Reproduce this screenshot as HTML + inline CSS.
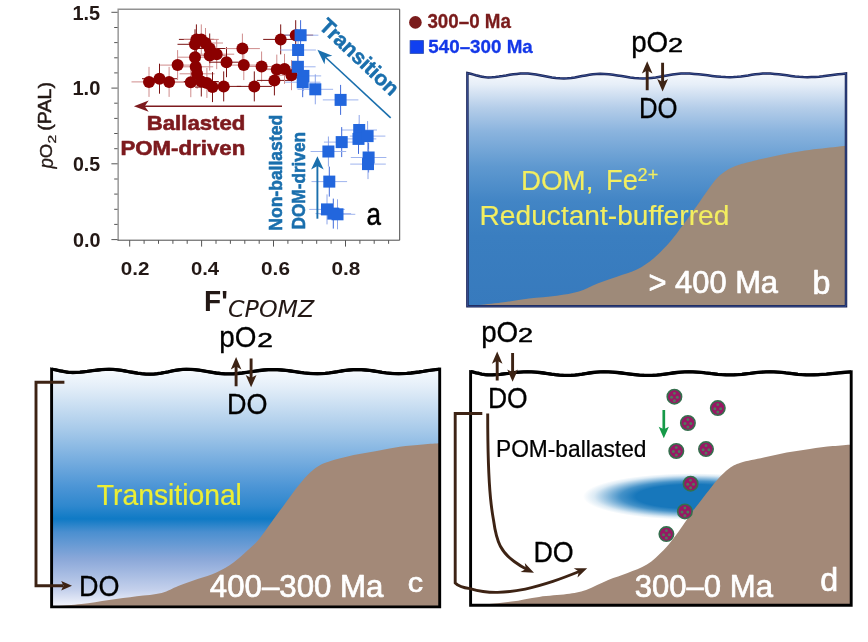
<!DOCTYPE html>
<html lang="en"><head><meta charset="utf-8"><title>Figure</title>
<style>
html,body{margin:0;padding:0;background:#fff;}
body{width:868px;height:642px;overflow:hidden;font-family:'Liberation Sans', sans-serif;}
svg{display:block;}
text{font-family:'Liberation Sans', sans-serif;}
</style></head><body>
<svg width="868" height="642" viewBox="0 0 868 642">
<defs>
<linearGradient id="gb" x1="0" y1="0" x2="0" y2="1">
<stop offset="0" stop-color="#f6f9fd"/>
<stop offset="0.05" stop-color="#e6eef8"/>
<stop offset="0.15" stop-color="#b4cde9"/>
<stop offset="0.25" stop-color="#8bb4de"/>
<stop offset="0.4" stop-color="#5f99d0"/>
<stop offset="0.55" stop-color="#4285c5"/>
<stop offset="0.7" stop-color="#3a7ec0"/>
<stop offset="1" stop-color="#377abd"/>
</linearGradient>
<linearGradient id="gc" x1="0" y1="0" x2="0" y2="1">
<stop offset="0" stop-color="#f8fbfe"/>
<stop offset="0.08" stop-color="#e2edf8"/>
<stop offset="0.25" stop-color="#a9cbea"/>
<stop offset="0.42" stop-color="#69a5dc"/>
<stop offset="0.5" stop-color="#4a94d5"/>
<stop offset="0.575" stop-color="#2f88ce"/>
<stop offset="0.63" stop-color="#0f7ac5"/>
<stop offset="0.685" stop-color="#4a8fd0"/>
<stop offset="0.80" stop-color="#8ba8d9"/>
<stop offset="0.93" stop-color="#c5d1ec"/>
<stop offset="1" stop-color="#f5f6fc"/>
</linearGradient>
<radialGradient id="ge" cx="0.5" cy="0.5" r="0.5">
<stop offset="0" stop-color="#1777bb"/>
<stop offset="0.52" stop-color="#1777bb"/>
<stop offset="0.66" stop-color="#1777bb" stop-opacity="0.8"/>
<stop offset="0.8" stop-color="#1777bb" stop-opacity="0.42"/>
<stop offset="0.9" stop-color="#1777bb" stop-opacity="0.15"/>
<stop offset="1" stop-color="#1777bb" stop-opacity="0"/>
</radialGradient>
</defs>
<rect width="868" height="642" fill="#fff"/>
<g stroke-width="1" fill="none">
<path d="M131.5,81.9H166.5M149.0,66.9V96.9" stroke="#cf8c8c"/>
<path d="M142.0,78.7H177.0M159.5,63.7V93.7" stroke="#7a1212"/>
<path d="M151.6,81.9H186.6M169.1,66.9V96.9" stroke="#cf8c8c"/>
<path d="M160.1,65.1H195.1M177.6,50.1V80.1" stroke="#cf8c8c"/>
<path d="M173.3,82.2H208.3M190.8,67.2V97.2" stroke="#cf8c8c"/>
<path d="M177.5,57.2H212.5M195.0,42.2V72.2" stroke="#cf8c8c"/>
<path d="M178.2,66.8H213.2M195.7,51.8V81.8" stroke="#cf8c8c"/>
<path d="M179.6,73.8H214.6M197.1,58.8V88.8" stroke="#cf8c8c"/>
<path d="M177.5,44.3H212.5M195.0,29.3V59.3" stroke="#7a1212"/>
<path d="M178.9,39.4H213.9M196.4,24.4V54.4" stroke="#7a1212"/>
<path d="M183.8,39.4H218.8M201.3,24.4V54.4" stroke="#cf8c8c"/>
<path d="M188.0,43.0H223.0M205.5,28.0V58.0" stroke="#cf8c8c"/>
<path d="M192.2,48.5H227.2M209.7,33.5V63.5" stroke="#7a1212"/>
<path d="M192.2,55.6H227.2M209.7,40.6V70.6" stroke="#cf8c8c"/>
<path d="M199.2,54.2H234.2M216.7,39.2V69.2" stroke="#cf8c8c"/>
<path d="M183.8,81.5H218.8M201.3,66.5V96.5" stroke="#7a1212"/>
<path d="M189.4,82.9H224.4M206.9,67.9V97.9" stroke="#cf8c8c"/>
<path d="M195.0,87.1H230.0M212.5,72.1V102.1" stroke="#7a1212"/>
<path d="M206.2,86.4H241.2M223.7,71.4V101.4" stroke="#7a1212"/>
<path d="M209.0,62.2H244.0M226.5,47.2V77.2" stroke="#7a1212"/>
<path d="M224.9,48.6H259.9M242.4,33.6V63.6" stroke="#cf8c8c"/>
<path d="M226.3,65.1H261.3M243.8,50.1V80.1" stroke="#cf8c8c"/>
<path d="M244.1,66.5H279.1M261.6,51.5V81.5" stroke="#cf8c8c"/>
<path d="M236.8,86.4H271.8M254.3,71.4V101.4" stroke="#7a1212"/>
<path d="M256.9,80.4H291.9M274.4,65.4V95.4" stroke="#7a1212"/>
<path d="M259.3,69.6H294.3M276.8,54.6V84.6" stroke="#cf8c8c"/>
<path d="M267.0,68.9H302.0M284.5,53.9V83.9" stroke="#cf8c8c"/>
<path d="M274.0,75.2H309.0M291.5,60.2V90.2" stroke="#cf8c8c"/>
<path d="M263.2,39.4H298.2M280.7,24.4V54.4" stroke="#7a1212"/>
<path d="M278.2,35.2H313.2M295.7,20.2V50.2" stroke="#7a1212"/>
<path d="M282.8,35.2H318.4" stroke="#9fb4ee"/>
<path d="M300.6,20.2V50.2" stroke="#3f6ada"/>
<path d="M280.3,50.0H315.9" stroke="#9fb4ee"/>
<path d="M298.1,35.0V65.0" stroke="#8ea6ea"/>
<path d="M280.0,66.8H315.6" stroke="#9fb4ee"/>
<path d="M297.8,51.8V81.8" stroke="#3f6ada"/>
<path d="M285.6,75.9H321.2" stroke="#9fb4ee"/>
<path d="M303.4,60.9V90.9" stroke="#8ea6ea"/>
<path d="M284.9,82.2H320.5" stroke="#9fb4ee"/>
<path d="M302.7,67.2V97.2" stroke="#3f6ada"/>
<path d="M297.5,89.3H333.1" stroke="#9fb4ee"/>
<path d="M315.3,74.3V104.3" stroke="#8ea6ea"/>
<path d="M322.8,99.9H358.4" stroke="#9fb4ee"/>
<path d="M340.6,84.9V114.9" stroke="#3f6ada"/>
<path d="M341.4,130.0H377.0" stroke="#9fb4ee"/>
<path d="M359.2,115.0V145.0" stroke="#8ea6ea"/>
<path d="M340.7,138.9H376.3" stroke="#9fb4ee"/>
<path d="M358.5,123.9V153.9" stroke="#3f6ada"/>
<path d="M349.8,136.1H385.4" stroke="#9fb4ee"/>
<path d="M367.6,121.1V151.1" stroke="#8ea6ea"/>
<path d="M323.9,142.1H359.5" stroke="#9fb4ee"/>
<path d="M341.7,127.1V157.1" stroke="#3f6ada"/>
<path d="M310.6,151.5H346.2" stroke="#9fb4ee"/>
<path d="M328.4,136.5V166.5" stroke="#8ea6ea"/>
<path d="M350.8,157.5H386.4" stroke="#9fb4ee"/>
<path d="M368.6,142.5V172.5" stroke="#3f6ada"/>
<path d="M350.2,164.1H385.8" stroke="#9fb4ee"/>
<path d="M368.0,149.1V179.1" stroke="#8ea6ea"/>
<path d="M311.5,181.6H347.1" stroke="#9fb4ee"/>
<path d="M329.3,166.6V196.6" stroke="#3f6ada"/>
<path d="M309.2,209.4H344.8" stroke="#9fb4ee"/>
<path d="M327.0,194.4V224.4" stroke="#8ea6ea"/>
<path d="M315.5,213.6H351.1" stroke="#9fb4ee"/>
<path d="M333.3,198.6V228.6" stroke="#3f6ada"/>
<path d="M319.7,214.3H355.3" stroke="#9fb4ee"/>
<path d="M337.5,199.3V229.3" stroke="#8ea6ea"/>
</g>
<g fill="#8b0000">
<circle cx="149.0" cy="81.9" r="6"/>
<circle cx="159.5" cy="78.7" r="6"/>
<circle cx="169.1" cy="81.9" r="6"/>
<circle cx="177.6" cy="65.1" r="6"/>
<circle cx="190.8" cy="82.2" r="6"/>
<circle cx="195.0" cy="57.2" r="6"/>
<circle cx="195.7" cy="66.8" r="6"/>
<circle cx="197.1" cy="73.8" r="6"/>
<circle cx="195.0" cy="44.3" r="6"/>
<circle cx="196.4" cy="39.4" r="6"/>
<circle cx="201.3" cy="39.4" r="6"/>
<circle cx="205.5" cy="43.0" r="6"/>
<circle cx="209.7" cy="48.5" r="6"/>
<circle cx="209.7" cy="55.6" r="6"/>
<circle cx="216.7" cy="54.2" r="6"/>
<circle cx="201.3" cy="81.5" r="6"/>
<circle cx="206.9" cy="82.9" r="6"/>
<circle cx="212.5" cy="87.1" r="6"/>
<circle cx="223.7" cy="86.4" r="6"/>
<circle cx="226.5" cy="62.2" r="6"/>
<circle cx="242.4" cy="48.6" r="6"/>
<circle cx="243.8" cy="65.1" r="6"/>
<circle cx="261.6" cy="66.5" r="6"/>
<circle cx="254.3" cy="86.4" r="6"/>
<circle cx="274.4" cy="80.4" r="6"/>
<circle cx="276.8" cy="69.6" r="6"/>
<circle cx="284.5" cy="68.9" r="6"/>
<circle cx="291.5" cy="75.2" r="6"/>
<circle cx="280.7" cy="39.4" r="6"/>
<circle cx="295.7" cy="35.2" r="6"/>
</g>
<g fill="#2266dd">
<rect x="294.6" y="29.2" width="12" height="12"/>
<rect x="292.1" y="44.0" width="12" height="12"/>
<rect x="291.8" y="60.8" width="12" height="12"/>
<rect x="297.4" y="69.9" width="12" height="12"/>
<rect x="296.7" y="76.2" width="12" height="12"/>
<rect x="309.3" y="83.3" width="12" height="12"/>
<rect x="334.6" y="93.9" width="12" height="12"/>
<rect x="353.2" y="124.0" width="12" height="12"/>
<rect x="352.5" y="132.9" width="12" height="12"/>
<rect x="361.6" y="130.1" width="12" height="12"/>
<rect x="335.7" y="136.1" width="12" height="12"/>
<rect x="322.4" y="145.5" width="12" height="12"/>
<rect x="362.6" y="151.5" width="12" height="12"/>
<rect x="362.0" y="158.1" width="12" height="12"/>
<rect x="323.3" y="175.6" width="12" height="12"/>
<rect x="321.0" y="203.4" width="12" height="12"/>
<rect x="327.3" y="207.6" width="12" height="12"/>
<rect x="331.5" y="208.3" width="12" height="12"/>
</g>
<path d="M118.15,240.2V9.3H399.7" fill="none" stroke="#929292" stroke-width="1.4"/>
<path d="M399.7,9.3V240.2H117.45" fill="none" stroke="#4a4a4a" stroke-width="1"/>
<path d="M111.4,239.6H117.6M114.2,224.4H117.6M114.2,209.3H117.6M114.2,194.1H117.6M114.2,179.0H117.6M111.4,163.8H117.6M114.2,148.7H117.6M114.2,133.5H117.6M114.2,118.4H117.6M114.2,103.2H117.6M111.4,88.1H117.6M114.2,72.9H117.6M114.2,57.8H117.6M114.2,42.6H117.6M114.2,27.5H117.6M111.4,12.3H117.6M129.7,240.2V246.6M144.1,240.2V243.8M158.5,240.2V243.8M172.9,240.2V243.8M187.2,240.2V243.8M201.6,240.2V246.6M216.0,240.2V243.8M230.4,240.2V243.8M244.8,240.2V243.8M259.2,240.2V243.8M273.5,240.2V246.6M287.9,240.2V243.8M302.3,240.2V243.8M316.7,240.2V243.8M331.1,240.2V243.8M345.5,240.2V246.6M359.9,240.2V243.8M374.2,240.2V243.8M388.6,240.2V243.8" stroke="#555" stroke-width="1" fill="none"/>
<text transform="translate(72.45 19.60) scale(1.0070 1)" font-size="19.78" fill="#231815" font-weight="bold">1.5</text>
<text transform="translate(72.44 95.40) scale(1.0313 1)" font-size="19.51" fill="#231815" font-weight="bold">1.0</text>
<text transform="translate(72.92 171.20) scale(1.0040 1)" font-size="19.51" fill="#231815" font-weight="bold">0.5</text>
<text transform="translate(72.91 247.00) scale(1.0136 1)" font-size="19.51" fill="#231815" font-weight="bold">0.0</text>
<text transform="translate(120.67 275.11) scale(1.0984 1)" font-size="18.80" fill="#231815" font-weight="bold">0.2</text>
<text transform="translate(190.89 275.11) scale(1.0797 1)" font-size="18.80" fill="#231815" font-weight="bold">0.4</text>
<text transform="translate(261.07 275.11) scale(1.1044 1)" font-size="18.80" fill="#231815" font-weight="bold">0.6</text>
<text transform="translate(331.47 275.11) scale(1.1042 1)" font-size="18.80" fill="#231815" font-weight="bold">0.8</text>
<text transform="translate(52.54 168.38) rotate(-90) scale(0.9240 1)" font-size="20.27" fill="#231815" font-style="italic" stroke="#231815" stroke-width="0.3" stroke-linejoin="round">p</text>
<text transform="translate(52.23 158.28) rotate(-90) scale(1.0791 1)" font-size="17.24" fill="#231815" stroke="#231815" stroke-width="0.4" stroke-linejoin="round">O</text>
<text transform="translate(55.95 143.53) rotate(-90) scale(1.4321 1)" font-size="10.90" fill="#231815" stroke="#231815" stroke-width="0.3" stroke-linejoin="round">2</text>
<text transform="translate(50.73 130.78) rotate(-90) scale(1.0417 1)" font-size="18.87" fill="#231815" stroke="#231815" stroke-width="0.5" stroke-linejoin="round">(PAL)</text>
<text transform="translate(204.01 310.80) scale(0.9450 1)" font-size="29.67" fill="#231815" font-weight="bold">F'</text>
<text transform="translate(227.99 316.66) scale(1.0467 1)" font-size="22.71" fill="#231815" font-style="italic" style="font-family:'DejaVu Sans', 'Liberation Sans', sans-serif">CPOMZ</text>
<path d="M282,106.2H142" stroke="#7d1a1e" stroke-width="1.6" fill="none"/>
<path d="M0,0 L-14.8,5.65 L-10.8,0 L-14.8,-5.65 Z" fill="#7d1a1e" transform="translate(133.9 106.2) rotate(180)"/>
<text transform="translate(146.70 130.30) scale(1.1327 1)" font-size="19.59" fill="#7d1a1e" font-weight="bold" stroke="#7d1a1e" stroke-width="0.6" stroke-linejoin="round">Ballasted</text>
<text transform="translate(120.40 155.10) scale(1.0904 1)" font-size="20.41" fill="#7d1a1e" font-weight="bold" stroke="#7d1a1e" stroke-width="0.6" stroke-linejoin="round">POM-driven</text>
<path d="M390.7,117.9L323,55" stroke="#1a6fad" stroke-width="1.6" fill="none"/>
<path d="M0,0 L-15,5.75 L-11,0 L-15,-5.75 Z" fill="#1a6fad" transform="translate(317.4 49.8) rotate(222.9)"/>
<text transform="translate(317.9 27.6) rotate(43.5) scale(0.995 1)" font-size="21.2" font-weight="bold" fill="#1a6fad" stroke="#1a6fad" stroke-width="0.5">Transition</text>
<path d="M317.4,218.7V164" stroke="#1a6fad" stroke-width="1.9" fill="none"/>
<path d="M0,0 L-13.2,6.3 L-9.799999999999999,0 L-13.2,-6.3 Z" fill="#1a6fad" transform="translate(317.4 156.2) rotate(-90)"/>
<text transform="translate(282.21 230.68) rotate(-90) scale(0.9134 1)" font-size="19.18" fill="#1a6fad" font-weight="bold" stroke="#1a6fad" stroke-width="0.6" stroke-linejoin="round">Non-ballasted</text>
<text transform="translate(304.71 229.46) rotate(-90) scale(0.9031 1)" font-size="19.05" fill="#1a6fad" font-weight="bold" stroke="#1a6fad" stroke-width="0.6" stroke-linejoin="round">DOM-driven</text>
<text transform="translate(366.44 225.14) scale(0.8282 1)" font-size="31.42" fill="#000" stroke="#000" stroke-width="0.5" stroke-linejoin="round">a</text>
<circle cx="415.4" cy="22.4" r="6.3" fill="#7a1c1c"/>
<text transform="translate(427.43 28.31) scale(0.9739 1)" font-size="19.30" fill="#7a1c1c" font-weight="bold" stroke="#7a1c1c" stroke-width="0.3" stroke-linejoin="round">300–0 Ma</text>
<rect x="410.1" y="40.6" width="13.4" height="12.8" fill="#1040f0" stroke="#2a4ab0" stroke-width="0.8"/>
<text transform="translate(428.29 53.11) scale(0.9887 1)" font-size="19.01" fill="#1438e8" font-weight="bold" stroke="#1438e8" stroke-width="0.3" stroke-linejoin="round">540–300 Ma</text>
<polygon points="467.4,73.0 469.5,73.5 471.6,74.0 473.7,74.6 475.8,75.2 477.9,75.7 479.9,76.3 482.0,76.7 484.1,77.1 486.2,77.3 488.3,77.4 491.9,77.3 495.4,77.0 499.0,76.6 502.6,76.1 506.1,75.5 509.7,74.8 513.3,74.3 516.9,73.9 520.4,73.6 524.0,73.5 528.0,73.6 532.0,74.0 536.0,74.5 540.0,75.2 544.0,76.0 547.9,76.7 551.9,77.4 555.9,77.9 559.9,78.3 563.9,78.4 567.5,78.3 571.2,78.0 574.8,77.5 578.4,76.8 582.0,76.1 585.7,75.4 589.3,74.7 592.9,74.2 596.6,73.9 600.2,73.8 604.5,73.9 608.8,74.2 613.0,74.7 617.3,75.4 621.6,76.1 625.9,76.8 630.2,77.5 634.4,78.0 638.7,78.3 643.0,78.4 647.2,78.3 651.4,77.9 655.7,77.4 659.9,76.7 664.1,76.0 668.3,75.2 672.5,74.5 676.8,74.0 681.0,73.6 685.2,73.5 689.7,73.6 694.2,73.9 698.6,74.3 703.1,74.8 707.6,75.3 712.1,75.9 716.6,76.4 721.0,76.8 725.5,77.1 730.0,77.2 733.6,77.1 737.3,76.8 740.9,76.4 744.5,75.9 748.1,75.4 751.8,74.8 755.4,74.3 759.0,73.9 762.7,73.6 766.3,73.5 770.4,73.6 774.5,73.9 778.6,74.3 782.7,74.8 786.8,75.3 791.0,75.9 795.1,76.4 799.2,76.8 803.3,77.1 807.4,77.2 811.3,77.1 815.1,77.0 819.0,76.7 822.8,76.3 826.7,75.8 830.6,75.3 834.4,74.8 838.3,74.3 842.1,73.9 846.0,73.5 846,306.2 467.4,306.2" fill="url(#gb)"/>
<path d="M467.4,306.2 C468.9,306.1 470.9,306.0 476.6,305.4 C482.3,304.8 492.8,303.8 501.5,302.6 C510.2,301.5 519.9,299.6 529.1,298.5 C538.3,297.4 548.5,296.8 556.8,295.7 C565.1,294.6 572.0,293.7 578.9,291.6 C585.8,289.5 591.8,285.8 598.2,283.3 C604.7,280.8 611.2,278.7 617.6,276.4 C624.0,274.1 630.9,272.4 636.9,269.4 C642.9,266.4 648.0,263.0 653.5,258.4 C659.0,253.8 665.0,247.6 670.1,241.8 C675.2,236.0 680.6,228.2 683.9,223.8 C687.2,219.4 687.5,219.1 690.0,215.5 C692.5,211.9 696.1,206.9 699.2,202.5 C702.3,198.1 705.3,193.4 708.4,189.2 C711.5,185.0 714.5,180.7 717.6,177.5 C720.7,174.3 723.8,172.1 726.9,170.2 C730.0,168.2 733.0,167.0 736.1,165.8 C739.2,164.6 740.7,164.2 745.3,163.0 C749.9,161.8 757.6,159.9 763.7,158.5 C769.9,157.1 776.1,155.7 782.2,154.5 C788.4,153.3 794.5,152.1 800.6,151.2 C806.7,150.2 811.4,149.7 819.0,148.8 C826.6,147.9 841.5,146.2 846.0,145.7 L846,306.2 L467.4,306.2 Z" fill="#9e8a79"/>
<polygon points="467.4,73.0 469.5,73.5 471.6,74.0 473.7,74.6 475.8,75.2 477.9,75.7 479.9,76.3 482.0,76.7 484.1,77.1 486.2,77.3 488.3,77.4 491.9,77.3 495.4,77.0 499.0,76.6 502.6,76.1 506.1,75.5 509.7,74.8 513.3,74.3 516.9,73.9 520.4,73.6 524.0,73.5 528.0,73.6 532.0,74.0 536.0,74.5 540.0,75.2 544.0,76.0 547.9,76.7 551.9,77.4 555.9,77.9 559.9,78.3 563.9,78.4 567.5,78.3 571.2,78.0 574.8,77.5 578.4,76.8 582.0,76.1 585.7,75.4 589.3,74.7 592.9,74.2 596.6,73.9 600.2,73.8 604.5,73.9 608.8,74.2 613.0,74.7 617.3,75.4 621.6,76.1 625.9,76.8 630.2,77.5 634.4,78.0 638.7,78.3 643.0,78.4 647.2,78.3 651.4,77.9 655.7,77.4 659.9,76.7 664.1,76.0 668.3,75.2 672.5,74.5 676.8,74.0 681.0,73.6 685.2,73.5 689.7,73.6 694.2,73.9 698.6,74.3 703.1,74.8 707.6,75.3 712.1,75.9 716.6,76.4 721.0,76.8 725.5,77.1 730.0,77.2 733.6,77.1 737.3,76.8 740.9,76.4 744.5,75.9 748.1,75.4 751.8,74.8 755.4,74.3 759.0,73.9 762.7,73.6 766.3,73.5 770.4,73.6 774.5,73.9 778.6,74.3 782.7,74.8 786.8,75.3 791.0,75.9 795.1,76.4 799.2,76.8 803.3,77.1 807.4,77.2 811.3,77.1 815.1,77.0 819.0,76.7 822.8,76.3 826.7,75.8 830.6,75.3 834.4,74.8 838.3,74.3 842.1,73.9 846.0,73.5 846,306.2 467.4,306.2" fill="none" stroke="#182152" stroke-width="2.5" stroke-linejoin="miter"/>
<polygon points="467.4,73.0 469.5,73.5 471.6,74.0 473.7,74.6 475.8,75.2 477.9,75.7 479.9,76.3 482.0,76.7 484.1,77.1 486.2,77.3 488.3,77.4 491.9,77.3 495.4,77.0 499.0,76.6 502.6,76.1 506.1,75.5 509.7,74.8 513.3,74.3 516.9,73.9 520.4,73.6 524.0,73.5 528.0,73.6 532.0,74.0 536.0,74.5 540.0,75.2 544.0,76.0 547.9,76.7 551.9,77.4 555.9,77.9 559.9,78.3 563.9,78.4 567.5,78.3 571.2,78.0 574.8,77.5 578.4,76.8 582.0,76.1 585.7,75.4 589.3,74.7 592.9,74.2 596.6,73.9 600.2,73.8 604.5,73.9 608.8,74.2 613.0,74.7 617.3,75.4 621.6,76.1 625.9,76.8 630.2,77.5 634.4,78.0 638.7,78.3 643.0,78.4 647.2,78.3 651.4,77.9 655.7,77.4 659.9,76.7 664.1,76.0 668.3,75.2 672.5,74.5 676.8,74.0 681.0,73.6 685.2,73.5 689.7,73.6 694.2,73.9 698.6,74.3 703.1,74.8 707.6,75.3 712.1,75.9 716.6,76.4 721.0,76.8 725.5,77.1 730.0,77.2 733.6,77.1 737.3,76.8 740.9,76.4 744.5,75.9 748.1,75.4 751.8,74.8 755.4,74.3 759.0,73.9 762.7,73.6 766.3,73.5 770.4,73.6 774.5,73.9 778.6,74.3 782.7,74.8 786.8,75.3 791.0,75.9 795.1,76.4 799.2,76.8 803.3,77.1 807.4,77.2 811.3,77.1 815.1,77.0 819.0,76.7 822.8,76.3 826.7,75.8 830.6,75.3 834.4,74.8 838.3,74.3 842.1,73.9 846.0,73.5 846,306.2 467.4,306.2" fill="none" stroke="#4462ae" stroke-width="0.7" stroke-linejoin="miter"/>
<text transform="translate(631.14 51.57) scale(0.9635 1)" font-size="28.84" fill="#000" stroke="#000" stroke-width="0.3" stroke-linejoin="round">pO</text>
<text transform="translate(668.00 52.15) scale(1.3094 1)" font-size="20.65" fill="#000" stroke="#000" stroke-width="0.5" stroke-linejoin="round">2</text>
<path d="M647.2,90.2V69.6M662.6,62.8V83.1" stroke="#3d2314" stroke-width="2.9" fill="none"/>
<path d="M0,0 L-12.3,5.3 L-9.3,0 L-12.3,-5.3 Z" fill="#3d2314" transform="translate(647.2 61.300000000000004) rotate(-90)"/>
<path d="M0,0 L-12.3,5.4 L-9.3,0 L-12.3,-5.4 Z" fill="#3d2314" transform="translate(662.6 91.39999999999999) rotate(90)"/>
<text transform="translate(639.02 117.56) scale(0.8807 1)" font-size="29.26" fill="#000" stroke="#000" stroke-width="0.3" stroke-linejoin="round">DO</text>
<text transform="translate(520.99 190.34) scale(0.9843 1)" font-size="28.20" fill="#f3ee60" stroke="#f3ee60" stroke-width="0.15" stroke-linejoin="round">DOM,</text>
<text transform="translate(605.92 190.34) scale(0.9469 1)" font-size="28.89" fill="#f3ee60" stroke="#f3ee60" stroke-width="0.15" stroke-linejoin="round">Fe</text>
<text transform="translate(637.60 180.50) scale(0.9699 1)" font-size="18.64" fill="#f3ee60" stroke="#f3ee60" stroke-width="0.2" stroke-linejoin="round">2+</text>
<text transform="translate(479.55 225.44) scale(1.0020 1)" font-size="28.10" fill="#f3ee60" stroke="#f3ee60" stroke-width="0.15" stroke-linejoin="round">Reductant-bufferred</text>
<text transform="translate(648.51 293.13) scale(0.9748 1)" font-size="31.66" fill="#fff" stroke="#fff" stroke-width="0.7" stroke-linejoin="round">&gt; 400 Ma</text>
<text transform="translate(812.46 293.52) scale(0.9868 1)" font-size="32.65" fill="#fff" stroke="#fff" stroke-width="0.7" stroke-linejoin="round">b</text>
<polygon points="51.6,369.1 53.7,369.5 55.8,369.9 57.9,370.3 60.0,370.8 62.2,371.2 64.3,371.6 66.4,372.0 68.5,372.3 70.6,372.4 72.7,372.5 76.3,372.4 80.0,372.2 83.6,371.8 87.2,371.4 90.8,370.9 94.5,370.4 98.1,370.0 101.7,369.6 105.4,369.4 109.0,369.3 113.1,369.4 117.2,369.8 121.3,370.3 125.4,371.0 129.5,371.8 133.6,372.5 137.7,373.2 141.8,373.7 145.9,374.1 150.0,374.2 153.6,374.1 157.3,373.7 160.9,373.2 164.6,372.5 168.2,371.8 171.8,371.0 175.5,370.3 179.1,369.8 182.8,369.4 186.4,369.3 190.7,369.4 194.9,369.7 199.2,370.2 203.4,370.9 207.7,371.6 212.0,372.3 216.2,373.0 220.5,373.5 224.7,373.8 229.0,373.9 233.4,373.8 237.7,373.5 242.1,373.0 246.5,372.4 250.8,371.8 255.2,371.1 259.6,370.5 264.0,370.0 268.3,369.7 272.7,369.6 277.2,369.7 281.6,370.0 286.1,370.4 290.6,371.0 295.0,371.6 299.5,372.3 304.0,372.9 308.5,373.3 312.9,373.6 317.4,373.7 321.4,373.6 325.4,373.3 329.4,372.9 333.4,372.3 337.4,371.7 341.3,371.0 345.3,370.4 349.3,370.0 353.3,369.7 357.3,369.6 361.4,369.7 365.5,370.0 369.7,370.4 373.8,371.0 377.9,371.6 382.0,372.3 386.1,372.9 390.3,373.3 394.4,373.6 398.5,373.7 402.6,373.6 406.7,373.4 410.9,373.0 415.0,372.5 419.1,372.0 423.2,371.4 427.3,370.7 431.5,370.1 435.6,369.6 439.7,369.1 439.7,606.9 51.6,606.9" fill="url(#gc)"/>
<path d="M51.6,606.8 C52.4,606.7 51.6,606.7 56.6,606.2 C61.6,605.7 72.8,605.0 81.5,604.0 C90.2,603.0 99.9,601.2 109.1,599.9 C118.3,598.6 128.1,597.5 136.8,596.3 C145.6,595.1 154.7,594.6 161.6,592.9 C168.5,591.2 172.2,588.3 178.2,586.0 C184.2,583.7 191.1,581.4 197.6,579.1 C204.1,576.8 210.9,575.0 216.9,572.2 C222.9,569.4 228.4,566.1 233.5,562.5 C238.6,558.9 243.3,554.3 247.4,550.6 C251.5,546.9 253.8,545.3 258.1,540.2 C262.4,535.1 268.6,525.9 273.0,519.9 C277.4,513.9 280.8,509.4 284.6,504.2 C288.5,499.0 292.3,493.5 296.1,488.6 C299.9,483.7 303.8,478.8 307.6,475.0 C311.4,471.2 315.3,468.1 319.1,465.8 C322.9,463.5 324.8,462.8 330.6,461.0 C336.4,459.2 346.0,456.7 353.7,455.0 C361.4,453.3 369.0,452.3 376.7,450.9 C384.4,449.5 392.1,447.9 399.8,446.8 C407.5,445.7 416.2,445.1 422.8,444.5 C429.4,443.9 436.9,443.5 439.7,443.3 L439.7,606.9 L51.6,606.9 Z" fill="#a38978"/>
<polygon points="51.6,369.1 53.7,369.5 55.8,369.9 57.9,370.3 60.0,370.8 62.2,371.2 64.3,371.6 66.4,372.0 68.5,372.3 70.6,372.4 72.7,372.5 76.3,372.4 80.0,372.2 83.6,371.8 87.2,371.4 90.8,370.9 94.5,370.4 98.1,370.0 101.7,369.6 105.4,369.4 109.0,369.3 113.1,369.4 117.2,369.8 121.3,370.3 125.4,371.0 129.5,371.8 133.6,372.5 137.7,373.2 141.8,373.7 145.9,374.1 150.0,374.2 153.6,374.1 157.3,373.7 160.9,373.2 164.6,372.5 168.2,371.8 171.8,371.0 175.5,370.3 179.1,369.8 182.8,369.4 186.4,369.3 190.7,369.4 194.9,369.7 199.2,370.2 203.4,370.9 207.7,371.6 212.0,372.3 216.2,373.0 220.5,373.5 224.7,373.8 229.0,373.9 233.4,373.8 237.7,373.5 242.1,373.0 246.5,372.4 250.8,371.8 255.2,371.1 259.6,370.5 264.0,370.0 268.3,369.7 272.7,369.6 277.2,369.7 281.6,370.0 286.1,370.4 290.6,371.0 295.0,371.6 299.5,372.3 304.0,372.9 308.5,373.3 312.9,373.6 317.4,373.7 321.4,373.6 325.4,373.3 329.4,372.9 333.4,372.3 337.4,371.7 341.3,371.0 345.3,370.4 349.3,370.0 353.3,369.7 357.3,369.6 361.4,369.7 365.5,370.0 369.7,370.4 373.8,371.0 377.9,371.6 382.0,372.3 386.1,372.9 390.3,373.3 394.4,373.6 398.5,373.7 402.6,373.6 406.7,373.4 410.9,373.0 415.0,372.5 419.1,372.0 423.2,371.4 427.3,370.7 431.5,370.1 435.6,369.6 439.7,369.1 439.7,606.9 51.6,606.9" fill="none" stroke="#000" stroke-width="2.9" stroke-linejoin="miter"/>
<polyline points="51.6,369.1 53.7,369.5 55.8,369.9 57.9,370.3 60.0,370.8 62.2,371.2 64.3,371.6 66.4,372.0 68.5,372.3 70.6,372.4 72.7,372.5 76.3,372.4 80.0,372.2 83.6,371.8 87.2,371.4 90.8,370.9 94.5,370.4 98.1,370.0 101.7,369.6 105.4,369.4 109.0,369.3 113.1,369.4 117.2,369.8 121.3,370.3 125.4,371.0 129.5,371.8 133.6,372.5 137.7,373.2 141.8,373.7 145.9,374.1 150.0,374.2 153.6,374.1 157.3,373.7 160.9,373.2 164.6,372.5 168.2,371.8 171.8,371.0 175.5,370.3 179.1,369.8 182.8,369.4 186.4,369.3 190.7,369.4 194.9,369.7 199.2,370.2 203.4,370.9 207.7,371.6 212.0,372.3 216.2,373.0 220.5,373.5 224.7,373.8 229.0,373.9 233.4,373.8 237.7,373.5 242.1,373.0 246.5,372.4 250.8,371.8 255.2,371.1 259.6,370.5 264.0,370.0 268.3,369.7 272.7,369.6 277.2,369.7 281.6,370.0 286.1,370.4 290.6,371.0 295.0,371.6 299.5,372.3 304.0,372.9 308.5,373.3 312.9,373.6 317.4,373.7 321.4,373.6 325.4,373.3 329.4,372.9 333.4,372.3 337.4,371.7 341.3,371.0 345.3,370.4 349.3,370.0 353.3,369.7 357.3,369.6 361.4,369.7 365.5,370.0 369.7,370.4 373.8,371.0 377.9,371.6 382.0,372.3 386.1,372.9 390.3,373.3 394.4,373.6 398.5,373.7 402.6,373.6 406.7,373.4 410.9,373.0 415.0,372.5 419.1,372.0 423.2,371.4 427.3,370.7 431.5,370.1 435.6,369.6 439.7,369.1" fill="none" stroke="#000" stroke-width="3.3" stroke-linejoin="round"/>
<text transform="translate(219.34 346.88) scale(0.9376 1)" font-size="29.72" fill="#000" stroke="#000" stroke-width="0.3" stroke-linejoin="round">pO</text>
<text transform="translate(257.24 347.25) scale(1.3916 1)" font-size="20.22" fill="#000" stroke="#000" stroke-width="0.5" stroke-linejoin="round">2</text>
<path d="M236.1,386.2V365.4M251.1,358.6V379" stroke="#3d2314" stroke-width="2.9" fill="none"/>
<path d="M0,0 L-12.3,5.3 L-9.3,0 L-12.3,-5.3 Z" fill="#3d2314" transform="translate(236.1 357.09999999999997) rotate(-90)"/>
<path d="M0,0 L-12.3,5.4 L-9.3,0 L-12.3,-5.4 Z" fill="#3d2314" transform="translate(251.1 387.3) rotate(90)"/>
<text transform="translate(227.02 414.46) scale(0.9276 1)" font-size="29.12" fill="#000" stroke="#000" stroke-width="0.3" stroke-linejoin="round">DO</text>
<text transform="translate(96.86 504.81) scale(0.9804 1)" font-size="28.84" fill="#ecee34" stroke="#ecee34" stroke-width="0.2" stroke-linejoin="round">Transitional</text>
<text transform="translate(78.92 595.86) scale(0.9321 1)" font-size="28.98" fill="#000" stroke="#000" stroke-width="0.3" stroke-linejoin="round">DO</text>
<text transform="translate(209.85 597.34) scale(0.9997 1)" font-size="31.24" fill="#fff" stroke="#fff" stroke-width="0.7" stroke-linejoin="round">400–300 Ma</text>
<text transform="translate(407.75 592.18) scale(1.1205 1)" font-size="27.40" fill="#fff" stroke="#fff" stroke-width="0.7" stroke-linejoin="round">c</text>
<path d="M64.4,382.3H36V585.8H63" stroke="#3d2314" stroke-width="2.9" fill="none"/>
<path d="M0,0 L-10.8,4.8 L-8.600000000000001,0 L-10.8,-4.8 Z" fill="#3d2314" transform="translate(72 585.8) rotate(0)"/>
<ellipse cx="693" cy="496.5" rx="110" ry="23.3" fill="url(#ge)"/>
<path d="M470.6,605.4 C473.3,605.2 479.8,604.9 486.6,604.3 C493.4,603.7 502.8,602.8 511.5,601.6 C520.2,600.4 529.9,598.1 539.1,596.9 C548.3,595.6 559.0,595.3 566.8,594.1 C574.6,592.9 579.2,592.2 586.1,589.9 C593.0,587.5 601.3,582.8 608.2,580.0 C615.1,577.2 621.2,575.7 627.6,573.1 C634.0,570.5 640.9,568.4 646.9,564.6 C652.9,560.8 659.0,554.6 663.5,550.2 C668.0,545.8 670.5,542.2 673.8,538.0 C677.0,533.8 679.5,530.1 683.0,525.2 C686.5,520.3 690.8,514.0 694.6,508.8 C698.5,503.6 702.3,498.7 706.1,493.8 C709.9,488.9 713.8,483.6 717.6,479.4 C721.4,475.2 725.3,471.4 729.1,468.6 C732.9,465.8 734.8,464.6 740.6,462.8 C746.4,461.0 756.0,459.3 763.7,457.6 C771.4,455.9 779.0,454.1 786.7,452.6 C794.4,451.2 802.1,450.0 809.8,448.9 C817.5,447.8 825.9,446.9 832.8,446.1 C839.7,445.4 848.1,444.7 851.2,444.4 L851.2,605.3 L470.6,605.3 Z" fill="#a38978"/>
<polygon points="470.6,371.6 472.4,371.9 474.3,372.3 476.1,372.8 477.9,373.2 479.8,373.7 481.6,374.1 483.4,374.4 485.2,374.7 487.1,374.8 488.9,374.9 492.8,374.8 496.6,374.6 500.5,374.3 504.4,373.8 508.2,373.4 512.1,372.9 516.0,372.4 519.9,372.1 523.7,371.9 527.6,371.8 531.6,371.9 535.6,372.1 539.6,372.5 543.6,373.0 547.5,373.6 551.5,374.2 555.5,374.7 559.5,375.1 563.5,375.3 567.5,375.4 571.1,375.3 574.8,375.1 578.4,374.7 582.0,374.2 585.6,373.6 589.3,373.0 592.9,372.5 596.5,372.1 600.2,371.9 603.8,371.8 608.3,371.9 612.8,372.1 617.2,372.5 621.7,373.0 626.2,373.6 630.7,374.2 635.2,374.7 639.6,375.1 644.1,375.3 648.6,375.4 652.6,375.3 656.7,375.1 660.7,374.7 664.7,374.2 668.8,373.6 672.8,373.0 676.8,372.5 680.8,372.1 684.9,371.9 688.9,371.8 693.0,371.9 697.1,372.1 701.2,372.4 705.3,372.9 709.5,373.3 713.6,373.8 717.7,374.3 721.8,374.6 725.9,374.8 730.0,374.9 734.0,374.8 738.0,374.6 742.0,374.3 746.0,373.8 750.0,373.4 753.9,372.9 757.9,372.4 761.9,372.1 765.9,371.9 769.9,371.8 773.9,371.9 777.9,372.1 781.9,372.4 785.9,372.9 789.9,373.3 793.9,373.8 797.9,374.3 801.9,374.6 805.9,374.8 809.9,374.9 814.0,374.8 818.2,374.7 822.3,374.4 826.4,374.1 830.5,373.7 834.7,373.3 838.8,372.9 842.9,372.5 847.1,372.1 851.2,371.8 851.2,605.3 470.6,605.3" fill="none" stroke="#000" stroke-width="2.9" stroke-linejoin="miter"/>
<polyline points="470.6,371.6 472.4,371.9 474.3,372.3 476.1,372.8 477.9,373.2 479.8,373.7 481.6,374.1 483.4,374.4 485.2,374.7 487.1,374.8 488.9,374.9 492.8,374.8 496.6,374.6 500.5,374.3 504.4,373.8 508.2,373.4 512.1,372.9 516.0,372.4 519.9,372.1 523.7,371.9 527.6,371.8 531.6,371.9 535.6,372.1 539.6,372.5 543.6,373.0 547.5,373.6 551.5,374.2 555.5,374.7 559.5,375.1 563.5,375.3 567.5,375.4 571.1,375.3 574.8,375.1 578.4,374.7 582.0,374.2 585.6,373.6 589.3,373.0 592.9,372.5 596.5,372.1 600.2,371.9 603.8,371.8 608.3,371.9 612.8,372.1 617.2,372.5 621.7,373.0 626.2,373.6 630.7,374.2 635.2,374.7 639.6,375.1 644.1,375.3 648.6,375.4 652.6,375.3 656.7,375.1 660.7,374.7 664.7,374.2 668.8,373.6 672.8,373.0 676.8,372.5 680.8,372.1 684.9,371.9 688.9,371.8 693.0,371.9 697.1,372.1 701.2,372.4 705.3,372.9 709.5,373.3 713.6,373.8 717.7,374.3 721.8,374.6 725.9,374.8 730.0,374.9 734.0,374.8 738.0,374.6 742.0,374.3 746.0,373.8 750.0,373.4 753.9,372.9 757.9,372.4 761.9,372.1 765.9,371.9 769.9,371.8 773.9,371.9 777.9,372.1 781.9,372.4 785.9,372.9 789.9,373.3 793.9,373.8 797.9,374.3 801.9,374.6 805.9,374.8 809.9,374.9 814.0,374.8 818.2,374.7 822.3,374.4 826.4,374.1 830.5,373.7 834.7,373.3 838.8,372.9 842.9,372.5 847.1,372.1 851.2,371.8" fill="none" stroke="#000" stroke-width="3.3" stroke-linejoin="round"/>
<g transform="translate(674.4 396.7)"><circle r="7.2" fill="#981764" stroke="#356f4d" stroke-width="1.6"/><circle cx="-2.9" cy="0.6" r="1.5" fill="#50785a"/><circle cx="2.9" cy="0.6" r="1.5" fill="#50785a"/><circle cx="0" cy="4" r="1.5" fill="#50785a"/><circle cx="0" cy="-3.4" r="1.4" fill="#50785a"/></g>
<g transform="translate(717.8 408.1)"><circle r="7.2" fill="#981764" stroke="#356f4d" stroke-width="1.6"/><circle cx="-2.9" cy="0.6" r="1.5" fill="#50785a"/><circle cx="2.9" cy="0.6" r="1.5" fill="#50785a"/><circle cx="0" cy="4" r="1.5" fill="#50785a"/><circle cx="0" cy="-3.4" r="1.4" fill="#50785a"/></g>
<g transform="translate(687.9 423.0)"><circle r="7.2" fill="#981764" stroke="#356f4d" stroke-width="1.6"/><circle cx="-2.9" cy="0.6" r="1.5" fill="#50785a"/><circle cx="2.9" cy="0.6" r="1.5" fill="#50785a"/><circle cx="0" cy="4" r="1.5" fill="#50785a"/><circle cx="0" cy="-3.4" r="1.4" fill="#50785a"/></g>
<g transform="translate(676.3 451.0)"><circle r="7.2" fill="#981764" stroke="#356f4d" stroke-width="1.6"/><circle cx="-2.9" cy="0.6" r="1.5" fill="#50785a"/><circle cx="2.9" cy="0.6" r="1.5" fill="#50785a"/><circle cx="0" cy="4" r="1.5" fill="#50785a"/><circle cx="0" cy="-3.4" r="1.4" fill="#50785a"/></g>
<g transform="translate(706 449.1)"><circle r="7.2" fill="#981764" stroke="#356f4d" stroke-width="1.6"/><circle cx="-2.9" cy="0.6" r="1.5" fill="#50785a"/><circle cx="2.9" cy="0.6" r="1.5" fill="#50785a"/><circle cx="0" cy="4" r="1.5" fill="#50785a"/><circle cx="0" cy="-3.4" r="1.4" fill="#50785a"/></g>
<g transform="translate(690.6 483.7)"><circle r="7.2" fill="#981764" stroke="#356f4d" stroke-width="1.6"/><circle cx="-2.9" cy="0.6" r="1.5" fill="#50785a"/><circle cx="2.9" cy="0.6" r="1.5" fill="#50785a"/><circle cx="0" cy="4" r="1.5" fill="#50785a"/><circle cx="0" cy="-3.4" r="1.4" fill="#50785a"/></g>
<g transform="translate(684.9 511.4)"><circle r="7.2" fill="#981764" stroke="#356f4d" stroke-width="1.6"/><circle cx="-2.9" cy="0.6" r="1.5" fill="#50785a"/><circle cx="2.9" cy="0.6" r="1.5" fill="#50785a"/><circle cx="0" cy="4" r="1.5" fill="#50785a"/><circle cx="0" cy="-3.4" r="1.4" fill="#50785a"/></g>
<g transform="translate(666.4 534.1)"><circle r="7.2" fill="#981764" stroke="#356f4d" stroke-width="1.6"/><circle cx="-2.9" cy="0.6" r="1.5" fill="#50785a"/><circle cx="2.9" cy="0.6" r="1.5" fill="#50785a"/><circle cx="0" cy="4" r="1.5" fill="#50785a"/><circle cx="0" cy="-3.4" r="1.4" fill="#50785a"/></g>
<path d="M663.8,410V430" stroke="#169a48" stroke-width="2.7" fill="none"/>
<path d="M0,0 L-11.5,5.1 L-9.0,0 L-11.5,-5.1 Z" fill="#169a48" transform="translate(663.8 438.2) rotate(90)"/>
<text transform="translate(481.14 341.89) scale(0.9672 1)" font-size="28.73" fill="#000" stroke="#000" stroke-width="0.3" stroke-linejoin="round">pO</text>
<text transform="translate(518.00 342.45) scale(1.3186 1)" font-size="20.50" fill="#000" stroke="#000" stroke-width="0.5" stroke-linejoin="round">2</text>
<path d="M497.2,380.4V359.8M512.6,353V373.4" stroke="#3d2314" stroke-width="2.9" fill="none"/>
<path d="M0,0 L-12.3,5.3 L-9.3,0 L-12.3,-5.3 Z" fill="#3d2314" transform="translate(497.2 351.5) rotate(-90)"/>
<path d="M0,0 L-12.3,5.4 L-9.3,0 L-12.3,-5.4 Z" fill="#3d2314" transform="translate(512.6 381.7) rotate(90)"/>
<text transform="translate(487.96 408.45) scale(0.8884 1)" font-size="29.82" fill="#000" stroke="#000" stroke-width="0.3" stroke-linejoin="round">DO</text>
<text transform="translate(495.95 457.44) scale(0.9590 1)" font-size="23.74" fill="#000" stroke="#000" stroke-width="0.25" stroke-linejoin="round">POM-ballasted</text>
<text transform="translate(533.43 562.15) scale(0.9050 1)" font-size="29.68" fill="#000" stroke="#000" stroke-width="0.3" stroke-linejoin="round">DO</text>
<text transform="translate(634.68 597.34) scale(0.9961 1)" font-size="31.24" fill="#fff" stroke="#fff" stroke-width="0.7" stroke-linejoin="round">300–0 Ma</text>
<text transform="translate(820.28 591.23) scale(0.9951 1)" font-size="32.38" fill="#fff" stroke="#fff" stroke-width="0.7" stroke-linejoin="round">d</text>
<path d="M482.3,413.5H455.2V583 C458,586 465,588 470,588.6 C480,591.5 488,592.6 497.6,592.4 C507,592.2 516,591 525.3,589.1 C535,587 544,584.3 552.9,581.4 C560,579 568,576 580.5,571" stroke="#3d2314" stroke-width="2.9" fill="none"/>
<path d="M0,0 L-12.5,5.0 L-9.0,0 L-12.5,-5.0 Z" fill="#3d2314" transform="translate(587.2 568.2) rotate(-22)"/>
<path d="M487.7,413.5 C487.7,445 488.3,475 490.5,498 C491.3,506 492.2,513 493.5,520 C495,531 497.2,540 500.4,546.3 C504,553 508.5,557.5 514.2,561.5 C518,564.3 522,567 527.5,569.8" stroke="#3d2314" stroke-width="2.9" fill="none"/>
<path d="M0,0 L-12.5,5.0 L-9.0,0 L-12.5,-5.0 Z" fill="#3d2314" transform="translate(534 572.7) rotate(25)"/>
</svg>
</body></html>
